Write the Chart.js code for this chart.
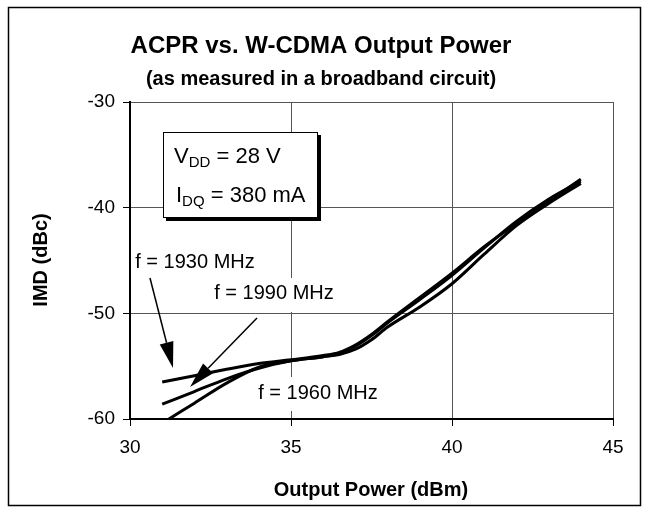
<!DOCTYPE html>
<html>
<head>
<meta charset="utf-8">
<script src="https://cdn.jsdelivr.net/npm/chart.js@4.4.0/dist/chart.umd.min.js"></script>
<style>
  html, body { margin: 0; padding: 0; background: #fff; }
</style>
</head>
<body>
<canvas id="chart" width="649" height="514"></canvas>
<script>
// output power (dBm) and IMD (dBc)
const power = [31, 32, 33, 34, 35, 36, 36.5, 37, 37.5, 38, 39, 40, 41, 42, 43, 44];
const imd1930 = [-56.5, -55.9, -55.3, -54.75, -54.4, -54.0, -53.7, -53.0, -52.0, -50.8, -48.5, -46.2, -43.7, -41.5, -39.4, -37.3];
const imd1990 = [-58.6, -57.4, -56.2, -55.2, -54.5, -54.1, -53.8, -53.1, -52.1, -50.9, -48.7, -46.4, -43.8, -41.3, -39.2, -37.5];
const imd1960 = [-60.4, -58.5, -56.6, -55.1, -54.5, -54.1, -53.9, -53.4, -52.5, -51.3, -49.4, -47.2, -44.4, -41.7, -39.6, -37.7];
const xTicks = [30, 35, 40, 45];
const yTicks = [-30, -40, -50, -60];

const FONT = 'Arial, "Liberation Sans", sans-serif';

const toPoints = (ys) => power.map((x, i) => ({ x: x, y: ys[i] }));

function arrow(ctx, x1, y1, x2, y2) {
  const a = Math.atan2(y2 - y1, x2 - x1);
  const len = 26, hw = 7;
  const bx = x2 - len * Math.cos(a), by = y2 - len * Math.sin(a);
  ctx.beginPath();
  ctx.moveTo(x1, y1);
  ctx.lineTo(bx, by);
  ctx.lineWidth = 1.5;
  ctx.strokeStyle = "#000";
  ctx.stroke();
  ctx.beginPath();
  ctx.moveTo(x2, y2);
  ctx.lineTo(bx + hw * Math.sin(a), by - hw * Math.cos(a));
  ctx.lineTo(bx - hw * Math.sin(a), by + hw * Math.cos(a));
  ctx.closePath();
  ctx.fillStyle = "#000";
  ctx.fill();
}

function label(ctx, text, cx, cy, top, bottom) {
  ctx.font = "20px " + FONT;
  const w = ctx.measureText(text).width;
  ctx.fillStyle = "#fff";
  ctx.fillRect(cx - w / 2 - 2, top, w + 4, bottom - top);
  ctx.fillStyle = "#000";
  ctx.textAlign = "center";
  ctx.textBaseline = "middle";
  ctx.fillText(text, cx, cy);
}

const overlay = {
  id: "overlay",
  beforeDraw(chart) {
    const ctx = chart.ctx;
    ctx.save();
    ctx.fillStyle = "#fff";
    ctx.fillRect(0, 0, chart.width, chart.height);
    ctx.restore();
  },
  beforeDatasetsDraw(chart) {
    const ctx = chart.ctx;
    ctx.save();
    label(ctx, "f = 1930 MHz", 195, 262, 250, 275);
    label(ctx, "f = 1990 MHz", 274, 293, 278, 312);
    label(ctx, "f = 1960 MHz", 318, 393, 377, 411);
    ctx.restore();
  },
  afterDraw(chart) {
    const ctx = chart.ctx;
    ctx.save();

    // outer frame
    ctx.strokeStyle = "#000";
    ctx.lineWidth = 1.5;
    ctx.strokeRect(8.5, 7.5, 632, 498);

    // titles
    ctx.fillStyle = "#000";
    ctx.textAlign = "center";
    ctx.textBaseline = "middle";
    ctx.font = "bold 24px " + FONT;
    ctx.fillText("ACPR vs. W-CDMA Output Power", 321, 46);
    ctx.font = "bold 20px " + FONT;
    ctx.fillText("(as measured in a broadband circuit)", 321, 79);

    // axis titles
    ctx.font = "bold 20px " + FONT;
    ctx.fillText("Output Power (dBm)", 371, 490);
    ctx.save();
    ctx.translate(41, 260);
    ctx.rotate(-Math.PI / 2);
    ctx.fillText("IMD (dBc)", 0, 0);
    ctx.restore();

    // arrows
    arrow(ctx, 150, 278, 173, 368);
    arrow(ctx, 257, 318, 190, 387);

    // bias box with shadow
    ctx.fillStyle = "#000";
    ctx.fillRect(166, 135, 155, 86);
    ctx.fillStyle = "#fff";
    ctx.fillRect(163, 132, 155, 86);
    ctx.lineWidth = 1;
    ctx.strokeStyle = "#000";
    ctx.strokeRect(163.5, 132.5, 154, 85);

    ctx.fillStyle = "#000";
    ctx.textAlign = "left";
    ctx.textBaseline = "alphabetic";
    let x = 174;
    ctx.font = "22px " + FONT;
    ctx.fillText("V", x, 163); x += ctx.measureText("V").width;
    ctx.font = "15px " + FONT;
    ctx.fillText("DD", x, 167); x += ctx.measureText("DD").width;
    ctx.font = "22px " + FONT;
    ctx.fillText(" = 28 V", x, 163);

    x = 176;
    ctx.fillText("I", x, 202); x += ctx.measureText("I").width;
    ctx.font = "15px " + FONT;
    ctx.fillText("DQ", x, 206); x += ctx.measureText("DQ").width;
    ctx.font = "22px " + FONT;
    ctx.fillText(" = 380 mA", x, 202);

    ctx.restore();
  }
};

const lineStyle = {
  borderColor: "#000",
  borderWidth: 3,
  pointRadius: 0,
  fill: false,
  tension: 0.4,
  cubicInterpolationMode: "monotone"
};

new Chart(document.getElementById("chart"), {
  type: "line",
  data: {
    datasets: [
      { label: "f = 1930 MHz", data: toPoints(imd1930), ...lineStyle },
      { label: "f = 1990 MHz", data: toPoints(imd1990), ...lineStyle },
      { label: "f = 1960 MHz", data: toPoints(imd1960), ...lineStyle }
    ]
  },
  options: {
    responsive: false,
    animation: false,
    devicePixelRatio: 1,
    layout: { padding: { left: 0, right: 36, top: 102, bottom: 0 } },
    plugins: {
      legend: { display: false },
      tooltip: { enabled: false },
      title: { display: false }
    },
    scales: {
      x: {
        type: "linear",
        min: 30,
        max: 45,
        afterBuildTicks: (s) => { s.ticks = xTicks.map((v) => ({ value: v })); },
        afterFit: (s) => { s.height = 95; },
        ticks: { color: "#000", font: { family: FONT, size: 19 }, padding: 10, maxRotation: 0 },
        grid: { color: "#555", lineWidth: 1, tickLength: 7, tickColor: "#000" },
        border: { color: "#000", width: 2 }
      },
      y: {
        min: -60,
        max: -30,
        afterBuildTicks: (s) => { s.ticks = yTicks.map((v) => ({ value: v })); },
        afterFit: (s) => { s.width = 130; },
        ticks: { color: "#000", font: { family: FONT, size: 19 }, padding: 8 },
        grid: { color: "#555", lineWidth: 1, tickLength: 7, tickColor: "#000" },
        border: { color: "#000", width: 2 }
      }
    }
  },
  plugins: [overlay]
});
</script>
</body>
</html>
